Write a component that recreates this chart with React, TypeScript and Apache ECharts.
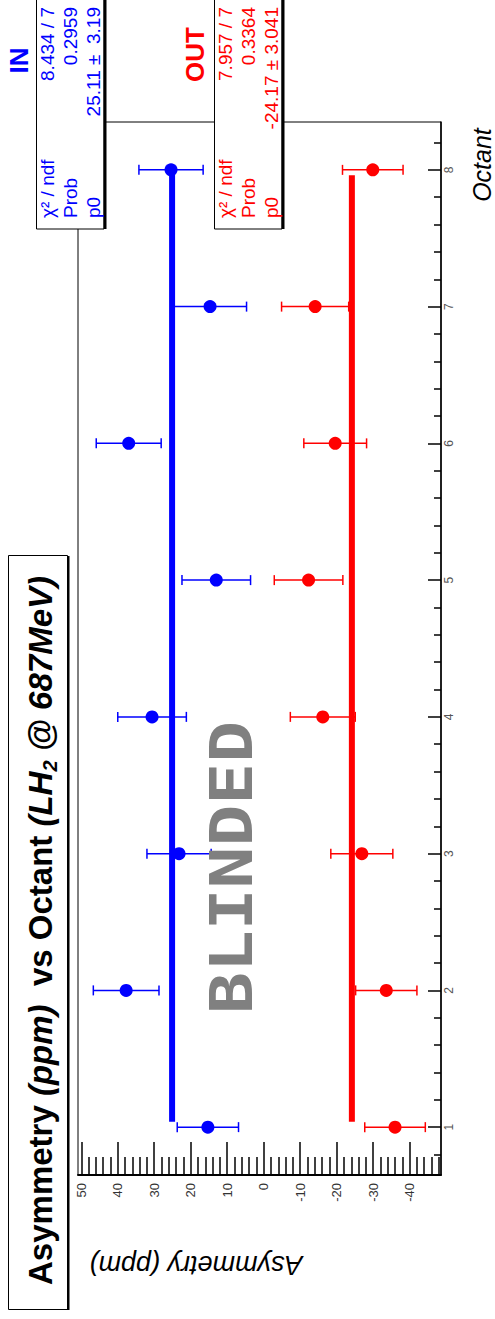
import React, { useEffect, useRef } from "react";
import * as echarts from "echarts";

// ---- data ----
const octants = [1, 2, 3, 4, 5, 6, 7, 8];
const inAsym = [15.3, 37.7, 23.2, 30.6, 13.0, 37.0, 14.7, 25.4];
const inErr = [8.4, 9.0, 8.8, 9.4, 9.4, 8.9, 10.0, 8.8];
const outAsym = [-36.0, -33.6, -26.9, -16.2, -12.3, -19.6, -14.1, -29.9];
const outErr = [8.3, 8.4, 8.5, 8.9, 9.4, 8.6, 9.2, 8.3];
const inFitP0 = 25.11;
const outFitP0 = -24.17;
const inFitRange = [1.04, 8.0];
const outFitRange = [1.04, 7.96];

const xMajorTicks = [50, 40, 30, 20, 10, 0, -10, -20, -30, -40];
const xMinorTicks: number[] = [];
for (let v = -48; v <= 50; v += 2) if (v % 10 !== 0) xMinorTicks.push(v);
const yMinorTicks: number[] = [];
for (let i = 4; i <= 41; i++) if (i % 5 !== 0) yMinorTicks.push(i / 5);

const inStats = [
  ["\u03c7\u00b2 / ndf", "8.434 / 7"],
  ["Prob", "0.2959"],
  ["p0", "25.11 \u00b1  3.19"],
];
const outStats = [
  ["\u03c7\u00b2 / ndf", "7.957 / 7"],
  ["Prob", "0.3364"],
  ["p0", "-24.17 \u00b1 3.041"],
];

const F = "'Liberation Sans', Arial, Helvetica, sans-serif";
const BLUE = "#0000ff";
const RED = "#ff0000";

function errRender(color: string) {
  return (params: any, api: any) => {
    const v = api.value(0);
    const o = api.value(1);
    const e = api.value(2);
    const a = api.coord([v - e, o]);
    const b = api.coord([v + e, o]);
    const style = { stroke: color, lineWidth: 1.5 };
    return {
      type: "group",
      children: [
        { type: "line", shape: { x1: a[0], y1: a[1], x2: b[0], y2: b[1] }, style },
        { type: "line", shape: { x1: a[0], y1: a[1] - 5, x2: a[0], y2: a[1] + 5 }, style },
        { type: "line", shape: { x1: b[0], y1: b[1] - 5, x2: b[0], y2: b[1] + 5 }, style },
      ],
    };
  };
}

function statBox(left: number, color: string, stats: string[][]) {
  const els: any[] = [
    {
      type: "rect",
      z: 100,
      shape: { x: left + 0.5, y: -5, width: 67.5, height: 234 },
      style: { fill: "#fff", stroke: "#000", lineWidth: 1 },
    },
    {
      type: "rect",
      z: 101,
      shape: { x: left + 67.5, y: -5, width: 3, height: 234 },
      style: { fill: "#000" },
    },
  ];
  const offs = [17.5, 40.5, 63.5];
  stats.forEach((row, i) => {
    const x = left + offs[i] - 6.5;
    els.push({
      type: "text",
      z: 102,
      x,
      y: 218,
      rotation: Math.PI / 2,
      style: { text: row[0], fontSize: 19, fontFamily: F, fill: color, align: "left", verticalAlign: "middle" },
    });
    els.push({
      type: "text",
      z: 102,
      x,
      y: 7,
      rotation: Math.PI / 2,
      style: { text: row[1], fontSize: 19, fontFamily: F, fill: color, align: "right", verticalAlign: "middle" },
    });
  });
  return els;
}

export default function App() {
  const ref = useRef<HTMLDivElement>(null);
  useEffect(() => {
    if (!ref.current) return;
    const chart = echarts.init(ref.current, null, { renderer: "svg" });
    const xMin = -48.6;
    const xMax = 50.9;
    const yMin = 0.65;
    const yMax = 8.35;
    const option: any = {
      animation: false,
      backgroundColor: "#fff",
      grid: {
        left: 78,
        top: 122,
        width: 363,
        height: 1053,
        show: true,
        borderColor: "#000",
        borderWidth: 1,
        backgroundColor: "transparent",
      },
      xAxis: [
        {
          type: "value",
          min: xMin,
          max: xMax,
          inverse: true,
          position: "bottom",
          axisLine: { show: true, onZero: false, lineStyle: { color: "#000", width: 2 } },
          axisTick: { show: true, inside: true, length: 33, customValues: xMajorTicks, lineStyle: { color: "#000", width: 1.5 } },
          axisLabel: { show: true, customValues: xMajorTicks, rotate: 90, margin: 8, fontSize: 13, color: "#333", fontFamily: F },
          splitLine: { show: false },
        },
        {
          type: "value",
          min: xMin,
          max: xMax,
          inverse: true,
          position: "bottom",
          axisLine: { show: false, onZero: false },
          axisTick: { show: true, inside: true, length: 18, customValues: xMinorTicks, lineStyle: { color: "#000", width: 1.5 } },
          axisLabel: { show: false },
          splitLine: { show: false },
        },
      ],
      yAxis: [
        {
          type: "value",
          min: yMin,
          max: yMax,
          position: "right",
          axisLine: { show: true, onZero: false, lineStyle: { color: "#000", width: 1.5 } },
          axisTick: { show: true, inside: true, length: 13, customValues: octants, lineStyle: { color: "#000", width: 1.5 } },
          axisLabel: { show: true, customValues: octants, rotate: 90, margin: 2, fontSize: 12, color: "#555", fontFamily: F },
          splitLine: { show: false },
        },
        {
          type: "value",
          min: yMin,
          max: yMax,
          position: "right",
          axisLine: { show: false, onZero: false },
          axisTick: { show: true, inside: true, length: 7, customValues: yMinorTicks, lineStyle: { color: "#000", width: 1.5 } },
          axisLabel: { show: false },
          splitLine: { show: false },
        },
      ],
      series: [
        {
          type: "line",
          data: [[inFitP0, inFitRange[0]], [inFitP0, inFitRange[1]]],
          symbol: "none",
          lineStyle: { color: BLUE, width: 6 },
          z: 2,
        },
        {
          type: "line",
          data: [[outFitP0, outFitRange[0]], [outFitP0, outFitRange[1]]],
          symbol: "none",
          lineStyle: { color: RED, width: 6 },
          z: 2,
        },
        {
          type: "custom",
          renderItem: errRender(BLUE),
          data: octants.map((o, i) => [inAsym[i], o, inErr[i]]),
          encode: { x: 0, y: 1 },
          z: 3,
        },
        {
          type: "custom",
          renderItem: errRender(RED),
          data: octants.map((o, i) => [outAsym[i], o, outErr[i]]),
          encode: { x: 0, y: 1 },
          z: 3,
        },
        {
          type: "scatter",
          data: octants.map((o, i) => [inAsym[i], o]),
          symbol: "circle",
          symbolSize: 13,
          itemStyle: { color: BLUE, opacity: 1 },
          z: 4,
        },
        {
          type: "scatter",
          data: octants.map((o, i) => [outAsym[i], o]),
          symbol: "circle",
          symbolSize: 13,
          itemStyle: { color: RED, opacity: 1 },
          z: 4,
        },
      ],
      graphic: [
        // title box
        {
          type: "rect",
          z: 100,
          shape: { x: 8.5, y: 555.5, width: 59, height: 754 },
          style: { fill: "#fff", stroke: "#000", lineWidth: 1 },
        },
        {
          type: "rect",
          z: 101,
          shape: { x: 67, y: 556, width: 2.5, height: 754 },
          style: { fill: "#000" },
        },
        {
          type: "text",
          z: 102,
          x: 40.5,
          y: 930.5,
          rotation: Math.PI / 2,
          style: {
            text: "{b|Asymmetry }{bi|(ppm)}{b|  vs Octant }{bi|(LH}{sub|2}{bi| @ 687MeV)}",
            align: "center",
            verticalAlign: "middle",
            fill: "#000",
            rich: {
              b: { fontSize: 33, fontWeight: "bold", fontFamily: F, fill: "#000" },
              bi: { fontSize: 33, fontWeight: "bold", fontStyle: "italic", fontFamily: F, fill: "#000" },
              sub: { fontSize: 20, fontWeight: "bold", fontStyle: "italic", fontFamily: F, fill: "#000", padding: [18, 0, 0, 0] },
            },
          },
        },
        ...statBox(36, BLUE, inStats),
        ...statBox(214, RED, outStats),
        {
          type: "text",
          z: 102,
          x: 19,
          y: 60.5,
          rotation: Math.PI / 2,
          style: { text: "IN", fontSize: 26, fontWeight: "bold", fontFamily: F, fill: BLUE, align: "center", verticalAlign: "middle" },
        },
        {
          type: "text",
          z: 102,
          x: 195,
          y: 54.5,
          rotation: Math.PI / 2,
          style: { text: "OUT", fontSize: 26, fontWeight: "bold", fontFamily: F, fill: RED, align: "center", verticalAlign: "middle" },
        },
        {
          type: "text",
          z: 50,
          x: 232,
          y: 867.5,
          rotation: Math.PI / 2,
          scaleX: 1.2,
          style: { text: "BLINDED", fontSize: 58, fontWeight: "bold", fontFamily: "'DejaVu Sans Mono', monospace", fill: "#808080", align: "center", verticalAlign: "middle" },
        },
        {
          type: "text",
          z: 102,
          x: 196,
          y: 1264.5,
          rotation: Math.PI,
          style: { text: "Asymmetry (ppm)", fontSize: 27, fontStyle: "italic", fontFamily: F, fill: "#000", align: "center", verticalAlign: "middle" },
        },
        {
          type: "text",
          z: 102,
          x: 481.5,
          y: 165,
          rotation: Math.PI / 2,
          style: { text: "Octant", fontSize: 25, fontStyle: "italic", fontFamily: F, fill: "#000", align: "center", verticalAlign: "middle" },
        },
      ],
    };
    chart.setOption(option);
    return () => chart.dispose();
  }, []);
  return (
    <div
      ref={ref}
      style={{ position: "absolute", left: 0, top: 0, width: 495, height: 1319, background: "#fff" }}
    />
  );
}
